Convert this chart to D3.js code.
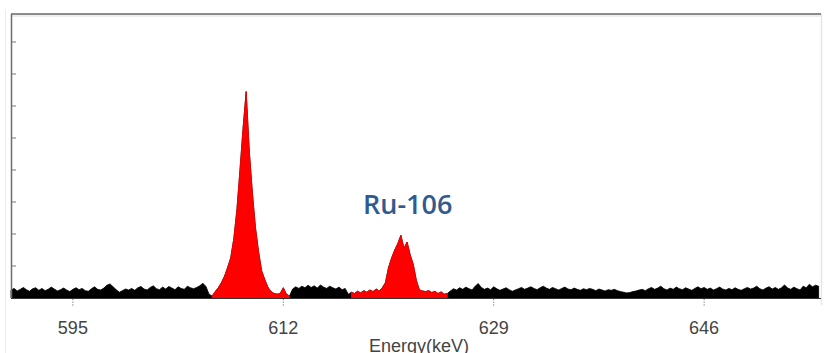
<!DOCTYPE html>
<html>
<head>
<meta charset="utf-8">
<script src="https://cdn.jsdelivr.net/npm/d3@7"></script>
<style>
  body { margin: 0; background: #fff; }
  svg { display: block; }
</style>
</head>
<body>
<div id="chart"></div>
<script>
// channel calibration
const startEnergy = 590
const channelWidth = 0.25

// counts per channel (arbitrary units)
const counts = [
  // 590.00 - 606.00 background
  0.25, 0.3, 0.22, 0.27, 0.33, 0.26, 0.21, 0.29, 0.32, 0.24,
  0.3, 0.23, 0.27, 0.34, 0.28, 0.22, 0.26, 0.31, 0.25, 0.2,
  0.27, 0.32, 0.26, 0.3, 0.23, 0.21, 0.29, 0.35, 0.27, 0.25,
  0.31, 0.4, 0.44, 0.35, 0.26, 0.18, 0.23, 0.28, 0.25, 0.3,
  0.24, 0.32, 0.36, 0.28, 0.25, 0.33, 0.38, 0.29, 0.26, 0.34,
  0.28, 0.36, 0.31, 0.26, 0.35, 0.3, 0.27, 0.37, 0.32, 0.29,
  0.33, 0.38, 0.46, 0.36, 0.12,
  // 606.25 - 612.50 first peak
  0.06, 0.2, 0.32, 0.48, 0.68, 0.95, 1.25, 1.85, 2.75, 4.0,
  5.3, 6.45, 4.6, 3.3, 2.2, 1.45, 0.85, 0.58, 0.34, 0.2,
  0.14, 0.12, 0.14, 0.32, 0.12, 0.06,
  // 612.75 - 617.25 background
  0.28, 0.35, 0.3, 0.37, 0.32, 0.4, 0.33, 0.38, 0.31, 0.41,
  0.34, 0.3, 0.37, 0.32, 0.28, 0.34, 0.26, 0.3, 0.12,
  // 617.50 - 625.25 Ru-106 region
  0.18, 0.14, 0.21, 0.16, 0.23, 0.18, 0.25, 0.2, 0.28, 0.22,
  0.32, 0.48, 0.95, 1.25, 1.5, 1.7, 1.96, 1.55, 1.75, 1.35,
  1.05, 0.55, 0.25, 0.22, 0.2, 0.23, 0.17, 0.21, 0.14, 0.19,
  0.12, 0.14,
  // 625.50 - 655.25 background
  0.22, 0.29, 0.25, 0.32, 0.27, 0.34, 0.29, 0.25, 0.37, 0.45,
  0.33, 0.27, 0.31, 0.26, 0.35, 0.29, 0.24, 0.28, 0.32, 0.26,
  0.21, 0.25, 0.29, 0.33, 0.27, 0.31, 0.35, 0.3, 0.26, 0.32,
  0.37, 0.31, 0.27, 0.33, 0.29, 0.25, 0.3, 0.34, 0.28, 0.26,
  0.31, 0.27, 0.24, 0.29, 0.26, 0.3, 0.27, 0.23, 0.28, 0.25,
  0.22, 0.26, 0.24, 0.27, 0.23, 0.2, 0.18, 0.16, 0.17, 0.2,
  0.22, 0.25, 0.27, 0.23, 0.29, 0.33, 0.27, 0.31, 0.37, 0.29,
  0.25, 0.31, 0.27, 0.34, 0.29, 0.26, 0.32, 0.28, 0.24, 0.3,
  0.35, 0.29, 0.33, 0.27, 0.31, 0.25, 0.29, 0.34, 0.28, 0.25,
  0.3, 0.26, 0.32, 0.27, 0.24, 0.29, 0.33, 0.28, 0.31, 0.37,
  0.29, 0.25, 0.31, 0.35, 0.28, 0.33, 0.27, 0.32, 0.41, 0.31,
  0.27, 0.34, 0.29, 0.25, 0.37, 0.32, 0.43, 0.35, 0.4, 0.37
]

// regions of interest shown in red
const roiRanges = [[606.25, 612.5], [617.5, 625.25]]

const xTicks = [595, 612, 629, 646]
const yTicks = [1, 2, 3, 4, 5, 6, 7, 8]
const xDomain = [590, 655.2]
const yDomain = [0, 8.875]
const peakLabel = 'Ru-106'
const xTitle = 'Energy(keV)'

const width = 824
const height = 353
const plot = { left: 11, right: 818, top: 14, bottom: 298 }

const svg = d3.select('#chart')
  .append('svg')
  .attr('width', width)
  .attr('height', height)

const x = d3.scaleLinear().domain(xDomain).range([plot.left, plot.right])
const y = d3.scaleLinear().domain(yDomain).range([plot.bottom, plot.top])

const spectrum = counts.map((v, i) => ({ e: startEnergy + i * channelWidth, v: v }))

// faint window frame
svg.append('line')
  .attr('x1', 5.5).attr('x2', 5.5).attr('y1', 10).attr('y2', height)
  .attr('stroke', '#ececec').attr('stroke-width', 1)
svg.append('line')
  .attr('x1', 821.5).attr('x2', 821.5).attr('y1', plot.top).attr('y2', 305)
  .attr('stroke', '#e6e6e6').attr('stroke-width', 1.5)

const area = d3.area()
  .x(d => x(d.e))
  .y0(y(0))
  .y1(d => y(d.v))

svg.append('path')
  .datum(spectrum)
  .attr('d', area)
  .attr('fill', '#000')
  .attr('stroke', '#000')
  .attr('stroke-width', 0.8)

roiRanges.forEach(r => {
  const part = spectrum.filter(d => d.e >= r[0] - 1e-9 && d.e <= r[1] + 1e-9)
  svg.append('path')
    .datum(part)
    .attr('d', area)
    .attr('fill', '#ff0000')
    .attr('stroke', '#ff0000')
    .attr('stroke-width', 0.8)
})

// frame lines
svg.append('line')
  .attr('x1', plot.left).attr('x2', plot.right + 3)
  .attr('y1', plot.top).attr('y2', plot.top)
  .attr('stroke', '#8c8c8c').attr('stroke-width', 2)
svg.append('line')
  .attr('x1', plot.left).attr('x2', plot.right + 3)
  .attr('y1', plot.top + 2).attr('y2', plot.top + 2)
  .attr('stroke', '#dddddd').attr('stroke-width', 1)
svg.append('line')
  .attr('x1', plot.left + 0.5).attr('x2', plot.left + 0.5)
  .attr('y1', plot.top).attr('y2', plot.bottom)
  .attr('stroke', '#6e6e6e').attr('stroke-width', 1.5)
svg.append('line')
  .attr('x1', plot.left).attr('x2', plot.right + 3)
  .attr('y1', plot.bottom + 0.5).attr('y2', plot.bottom + 0.5)
  .attr('stroke', '#333').attr('stroke-width', 1.2)

// y ticks (short marks inside)
svg.append('g')
  .selectAll('line')
  .data(yTicks)
  .enter()
  .append('line')
  .attr('x1', plot.left).attr('x2', plot.left + 5)
  .attr('y1', d => y(d)).attr('y2', d => y(d))
  .attr('stroke', '#777').attr('stroke-width', 1)

// x axis: dotted tick marks, labels
const xAxis = svg.append('g')
xAxis.selectAll('line')
  .data(xTicks)
  .enter()
  .append('line')
  .attr('x1', d => x(d)).attr('x2', d => x(d))
  .attr('y1', plot.bottom + 1).attr('y2', plot.bottom + 9)
  .attr('stroke', '#777').attr('stroke-width', 1)
  .attr('stroke-dasharray', '1.2,1.4')
xAxis.selectAll('text')
  .data(xTicks)
  .enter()
  .append('text')
  .attr('x', d => x(d))
  .attr('y', 334)
  .attr('text-anchor', 'middle')
  .attr('font-family', 'Liberation Sans, Arial, sans-serif')
  .attr('font-size', 18)
  .attr('fill', '#444')
  .text(d => d)

svg.append('text')
  .attr('x', 419)
  .attr('y', 352)
  .attr('text-anchor', 'middle')
  .attr('font-family', 'Liberation Sans, Arial, sans-serif')
  .attr('font-size', 18)
  .attr('fill', '#444')
  .text(xTitle)

svg.append('text')
  .attr('x', 363)
  .attr('y', 214)
  .attr('font-family', 'Open Sans, sans-serif')
  .attr('font-size', 27)
  .attr('font-weight', 600)
  .attr('fill', '#2f5b8e')
  .text(peakLabel)
</script>
</body>
</html>
